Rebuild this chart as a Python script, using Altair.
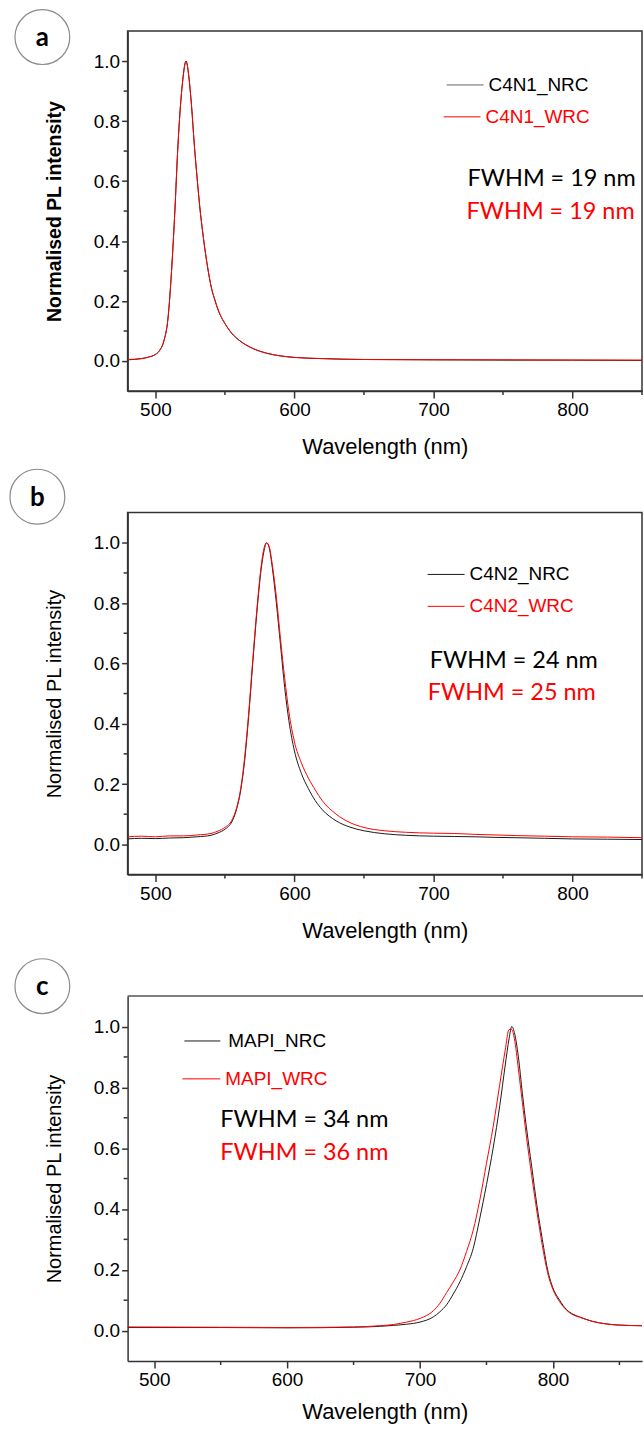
import altair as alt
import pandas as pd

FONT = "Liberation Sans"
AXC = "#333333"
BLK = "#1a1a1a"
RED = "#ff0000"

# ---------------- data ----------------
a_wl = [480, 490, 495, 500, 503, 506, 509, 512, 514, 516,
        518, 520, 521, 522, 523, 524, 526, 528, 530, 532,
        534, 536, 538, 540, 543, 546, 550, 555, 560, 565,
        570, 580, 590, 600, 620, 650, 700, 750, 800, 850]
a_nrc = [0.004, 0.008, 0.013, 0.022, 0.035, 0.065, 0.14, 0.33, 0.50, 0.70,
         0.85, 0.95, 0.985, 1.0, 0.985, 0.95, 0.85, 0.72, 0.61, 0.51,
         0.43, 0.36, 0.30, 0.25, 0.20, 0.16, 0.125, 0.092, 0.07, 0.054,
         0.042, 0.026, 0.017, 0.012, 0.008, 0.005, 0.004, 0.003, 0.003, 0.002]
a_wrc = [0.005, 0.008, 0.013, 0.022, 0.035, 0.066, 0.14, 0.33, 0.50, 0.70,
         0.85, 0.95, 0.985, 1.0, 0.985, 0.95, 0.85, 0.72, 0.61, 0.51,
         0.43, 0.36, 0.30, 0.25, 0.20, 0.16, 0.125, 0.092, 0.07, 0.054,
         0.042, 0.026, 0.017, 0.012, 0.008, 0.005, 0.004, 0.004, 0.003, 0.003]

b_wl = [480, 490, 500, 510, 520, 530, 540, 545, 550, 555, 558, 561,
        564, 567, 570, 573, 576, 578, 580, 582, 584, 587,
        590, 593, 596, 600, 605, 610, 615, 620, 630, 640,
        650, 665, 680, 700, 715, 730, 745, 760, 780, 800, 825, 850]
b_nrc = [0.018, 0.02, 0.019, 0.021, 0.022, 0.025, 0.03, 0.038, 0.05, 0.075, 0.11, 0.17,
         0.27, 0.42, 0.6, 0.77, 0.91, 0.97, 1.0, 0.98, 0.92, 0.8,
         0.66, 0.52, 0.41, 0.31, 0.235, 0.185, 0.145, 0.115, 0.078, 0.057,
         0.045, 0.035, 0.03, 0.027, 0.026, 0.025, 0.023, 0.022, 0.02, 0.018, 0.017, 0.016]
b_wrc = [0.025, 0.027, 0.025, 0.028, 0.028, 0.031, 0.036, 0.044, 0.056, 0.08, 0.115, 0.175,
         0.28, 0.43, 0.61, 0.78, 0.92, 0.98, 1.0, 0.985, 0.93, 0.82,
         0.68, 0.55, 0.44, 0.34, 0.27, 0.22, 0.18, 0.145, 0.1, 0.072,
         0.056, 0.045, 0.04, 0.037, 0.036, 0.033, 0.031, 0.029, 0.027, 0.025, 0.024, 0.022]

c_wl = [480, 550, 600, 650, 670, 680, 690, 700, 710, 715,
        720, 725, 730, 735, 740, 745, 750, 755, 760, 764,
        767, 769, 771, 774, 777, 780, 784, 788, 792, 796,
        800, 805, 810, 815, 820, 830, 840, 850, 867]
c_nrc = [0.01, 0.01, 0.009, 0.011, 0.014, 0.017, 0.021, 0.028, 0.045, 0.062,
         0.085, 0.12, 0.16, 0.21, 0.27, 0.37, 0.48, 0.6, 0.74, 0.87,
         0.96, 1.0, 0.98, 0.9, 0.78, 0.67, 0.54, 0.41, 0.3, 0.2,
         0.14, 0.1, 0.07, 0.054, 0.045, 0.03, 0.022, 0.018, 0.016]
c_wrc = [0.012, 0.011, 0.01, 0.012, 0.016, 0.02, 0.028, 0.04, 0.065, 0.09,
         0.125, 0.16, 0.2, 0.26, 0.33, 0.43, 0.55, 0.67, 0.81, 0.92,
         0.99, 0.99, 0.96, 0.86, 0.75, 0.64, 0.51, 0.39, 0.28, 0.19,
         0.135, 0.095, 0.068, 0.052, 0.044, 0.03, 0.022, 0.018, 0.016]

x_ticks = [500, 600, 700, 800]
x_minor = [550, 650, 750, 850]
y_ticks = [0.0, 0.2, 0.4, 0.6, 0.8, 1.0]
y_minor = [0.1, 0.3, 0.5, 0.7, 0.9]

W = 516
ONE = pd.DataFrame({"k": [0]})


def panel(wl, nrc, wrc, xdom, H, names, fwhms, leg, fw, letter, circ,
          ybold, border=True, nrc_leg_color=BLK, xtitle_y=56):
    xs = alt.Scale(domain=xdom, nice=False, zero=False)
    ys = alt.Scale(domain=[-0.1, 1.1], nice=False, zero=False)
    xax = alt.Axis(
        values=x_ticks, format="d", title="Wavelength (nm)", grid=False,
        labelFontSize=19, titleFontSize=22, titleFontWeight="normal",
        tickSize=7, labelPadding=3, titleY=xtitle_y, titleBaseline="middle")
    yax = alt.Axis(
        values=y_ticks, format=".1f", title="Normalised PL intensity", grid=False,
        labelFontSize=19, titleFontSize=19.5 if ybold else 20,
        titleFontWeight="bold" if ybold else "normal",
        tickSize=6, labelPadding=2, titleX=-73, titleY=H / 2,
        titleBaseline="middle", titleAlign="center")
    xenc = alt.X("wl:Q", scale=xs, axis=xax)
    yenc = alt.Y("v:Q", scale=ys, axis=yax)

    dn = pd.DataFrame({"wl": wl, "v": nrc})
    dw = pd.DataFrame({"wl": wl, "v": wrc})
    ln = alt.Chart(dn).mark_line(color=BLK, strokeWidth=1, interpolate="monotone",
                                 clip=True).encode(x=xenc, y=yenc)
    lw = alt.Chart(dw).mark_line(color=RED, strokeWidth=1, interpolate="monotone",
                                 clip=True).encode(x=xenc, y=yenc)

    # minor ticks drawn with the same scales/axes
    mx = alt.Chart(pd.DataFrame({"wl": x_minor})).mark_rule(
        color=AXC, strokeWidth=1.5).encode(
        x=xenc, y=alt.value(H), y2=alt.value(H + 4))
    my = alt.Chart(pd.DataFrame({"v": y_minor})).mark_rule(
        color=AXC, strokeWidth=1.5).encode(
        y=yenc, x=alt.value(0), x2=alt.value(-4))

    layers = [ln, lw, mx, my]

    # legend
    (lx1, lx2, tx, y1), (rx1, rx2, rtx, y2) = leg
    layers.append(alt.Chart(ONE).mark_rule(color=nrc_leg_color, strokeWidth=1).encode(
        x=alt.value(lx1), x2=alt.value(lx2), y=alt.value(y1)))
    layers.append(alt.Chart(ONE).mark_text(text=names[0], align="left", baseline="middle",
                                           fontSize=19, font=FONT, color="black").encode(
        x=alt.value(tx), y=alt.value(y1)))
    layers.append(alt.Chart(ONE).mark_rule(color=RED, strokeWidth=1).encode(
        x=alt.value(rx1), x2=alt.value(rx2), y=alt.value(y2)))
    layers.append(alt.Chart(ONE).mark_text(text=names[1], align="left", baseline="middle",
                                           fontSize=19, font=FONT, color=RED).encode(
        x=alt.value(rtx), y=alt.value(y2)))
    # FWHM texts
    (fx1, fy1), (fx2, fy2) = fw
    layers.append(alt.Chart(ONE).mark_text(text=fwhms[0], align="left", baseline="middle",
                                           fontSize=23.5, font="Lato", color="black").encode(
        x=alt.value(fx1), y=alt.value(fy1)))
    layers.append(alt.Chart(ONE).mark_text(text=fwhms[1], align="left", baseline="middle",
                                           fontSize=23.5, font="Lato", color=RED).encode(
        x=alt.value(fx2), y=alt.value(fy2)))
    # panel letter in circle
    cx, cy = circ
    layers.append(alt.Chart(ONE).mark_point(shape="circle", size=55 * 55, filled=False,
                                            color="#8a8a8a", strokeWidth=1.2, opacity=1).encode(
        x=alt.value(cx), y=alt.value(cy)))
    layers.append(alt.Chart(ONE).mark_text(text=letter, align="center", baseline="middle",
                                           fontSize=26, fontWeight="bold", font="Lato",
                                           color="black").encode(
        x=alt.value(cx), y=alt.value(cy + 1)))
    if not border:
        layers.append(alt.Chart(ONE).mark_rule(color="#555555", strokeWidth=1.5).encode(
            x=alt.value(0), x2=alt.value(W + 1), y=alt.value(0)))

    ch = alt.layer(*layers).properties(width=W, height=H)
    if border:
        ch = ch.properties(view=alt.ViewBackground(stroke=AXC, strokeWidth=1.5))
    else:
        ch = ch.properties(view=alt.ViewBackground(stroke=None))
    return ch


pa = panel(a_wl, a_nrc, a_wrc, [480, 850], 361, ["C4N1_NRC", "C4N1_WRC"],
           ["FWHM = 19 nm", "FWHM = 19 nm"],
           ((320, 357, 362, 54), (317, 354, 359, 86)),
           ((341, 148), (340, 181)), "a", (-85.5, 6), True, nrc_leg_color="#666666")
pb = panel(b_wl, b_nrc, b_wrc, [480, 850], 363, ["C4N2_NRC", "C4N2_WRC"],
           ["FWHM = 24 nm", "FWHM = 25 nm"],
           ((301, 338, 343, 62), (301, 338, 343, 94)),
           ((303, 149), (301, 181)), "b", (-90.5, -16), False)
pc = panel(c_wl, c_nrc, c_wrc, [480, 867], 366, ["MAPI_NRC", "MAPI_WRC"],
           ["FWHM = 34 nm", "FWHM = 36 nm"],
           ((57, 93, 101, 45), (55, 93, 98, 83)),
           ((93, 124), (93, 157)), "c", (-85.5, -10), False, border=False,
           xtitle_y=51)

chart = alt.vconcat(pa, pb, pc, spacing=122, bounds="flush").properties(
    padding={"left": 6, "top": 4, "right": 0, "bottom": 0}
).configure(font=FONT).configure_axis(
    domainColor=AXC, domainWidth=1.5, tickColor=AXC, tickWidth=1.5,
    labelColor="black", titleColor="black", labelFont=FONT, titleFont=FONT
).configure_view(stroke=AXC, strokeWidth=1.5)

chart.save("out.html", embed_options={"renderer": "svg", "actions": False})
